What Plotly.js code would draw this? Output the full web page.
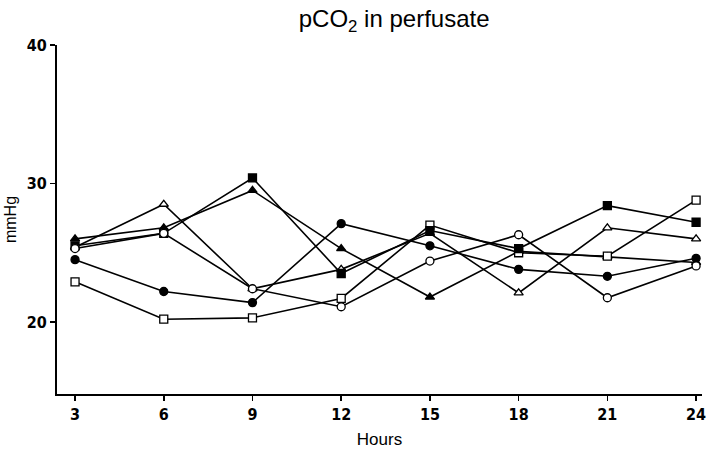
<!DOCTYPE html>
<html>
<head>
<meta charset="utf-8">
<script src="https://cdn.plot.ly/plotly-3.0.1.min.js"></script>
<style>html,body{margin:0;padding:0;background:#fff;}#chart{width:714px;height:456px;}</style>
</head>
<body>
<div id="chart"></div>
<script>
const hours = [3, 6, 9, 12, 15, 18, 21, 24];
const filledSquare   = [25.5, 26.4, 30.4, 23.5, 26.6, 25.3, 28.4, 27.2];
const filledTriangle = [26.0, 26.8, 29.5, 25.3, 21.8, 25.1, 24.7, 24.3];
const openTriangle   = [25.4, 28.5, 22.4, 23.8, 26.4, 22.1, 26.8, 26.0];
const filledCircle   = [24.5, 22.2, 21.4, 27.1, 25.5, 23.8, 23.3, 24.6];
const openCircle     = [25.3, 26.4, 22.4, 21.1, 24.4, 26.3, 21.75, 24.05];
const openSquare     = [22.9, 20.2, 20.3, 21.7, 27.0, 25.0, 24.75, 28.8];
const yTicks = [20, 30, 40];

function tr(y, symbol, fill, size) {
  return {
    x: hours, y: y, type: 'scatter', mode: 'lines+markers',
    line: {color: '#000', width: 1.6},
    marker: {symbol: symbol, size: size, color: fill, line: {color: '#000', width: 1.3}},
    showlegend: false, hoverinfo: 'x+y'
  };
}

const data = [
  tr(openTriangle, 'triangle-up', '#fff', 8),
  tr(filledTriangle, 'triangle-up', '#000', 8),
  tr(filledCircle, 'circle', '#000', 8),
  tr(openSquare, 'square', '#fff', 8),
  tr(filledSquare, 'square', '#000', 8),
  tr(openCircle, 'circle', '#fff', 8)
];

const tickFont = {family: 'DejaVu Sans Condensed, Liberation Sans Narrow, sans-serif', size: 16, color: '#000', weight: 'bold'};

const layout = {
  width: 714, height: 456,
  margin: {l: 57, r: 12, t: 45, b: 62},
  paper_bgcolor: '#fff', plot_bgcolor: '#fff',
  title: {text: 'pCO<sub>2</sub> in perfusate', x: 0.552, xref: 'container', y: 0.978, yref: 'container', yanchor: 'top',
          font: {family: 'Liberation Sans, Arial, sans-serif', size: 24, color: '#000'}},
  xaxis: {
    range: [2.39, 24.2], tickmode: 'array', tickvals: hours, ticktext: hours.map(String),
    showgrid: false, zeroline: false, showline: true, linecolor: '#000', linewidth: 2,
    ticks: 'outside', ticklen: 5, tickwidth: 1.5, tickcolor: '#000',
    tickfont: tickFont,
    title: {text: 'Hours', standoff: 10, font: {family: 'Liberation Sans, Arial, sans-serif', size: 17, color: '#000'}}
  },
  yaxis: {
    range: [14.8, 40], tickmode: 'array', tickvals: yTicks, ticktext: yTicks.map(String),
    showgrid: false, zeroline: false, showline: true, linecolor: '#000', linewidth: 2,
    ticks: 'outside', ticklen: 5, tickwidth: 1.5, tickcolor: '#000',
    tickfont: tickFont,
    title: {text: 'mmHg', standoff: 6, font: {family: 'Liberation Sans, Arial, sans-serif', size: 16, color: '#000'}}
  }
};

Plotly.newPlot('chart', data, layout, {displayModeBar: false, staticPlot: true});
</script>
</body>
</html>
